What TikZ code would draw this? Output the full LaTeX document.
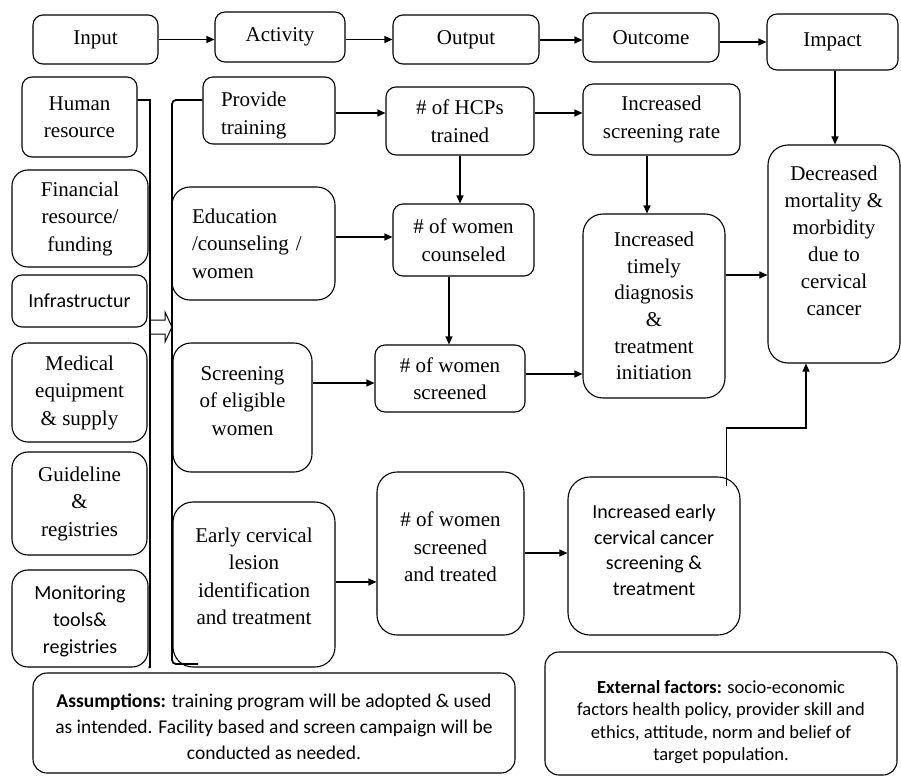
\documentclass[tikz,border=0pt]{standalone}
\usepackage{fontspec}
\setmainfont{Liberation Serif}
\newfontfamily\calfont{Carlito}
\usetikzlibrary{arrows.meta}
\begin{document}
\begin{tikzpicture}[x=1pt,y=-1pt,
  box/.style={draw, line width=1.1pt, rounded corners=10pt, align=center, inner sep=2pt, font=\fontsize{21}{27.5}\selectfont},
  cbox/.style={box, font=\calfont\fontsize{20}{27}\selectfont},
  arr/.style={-{Triangle[length=8pt,width=7pt]}, line width=1.1pt},
  brk/.style={line width=1.8pt}]
\useasboundingbox (0,0) rectangle (901,778);
% top row
\node[box, minimum width=125pt, minimum height=49pt] (input) at (95.5,39.5) {Input};
\node[box, minimum width=130pt, minimum height=50pt] (activity) at (280,37) {Activity};
\node[box, minimum width=146pt, minimum height=49pt] (output) at (466,39.5) {Output};
\node[box, minimum width=136pt, minimum height=49pt] (outcome) at (651,37.5) {Outcome};
\node[box, minimum width=131pt, minimum height=56pt] (impact) at (832.5,42) {Impact};
% inputs
\node[box, minimum width=115pt, minimum height=80pt] (human) at (79.5,117) {Human\\resource};
\node[box, rounded corners=16pt, minimum width=136pt, minimum height=97pt] (financial) at (80,218.5) {Financial\\resource/\\funding};
\node[cbox, minimum width=135pt, minimum height=52pt] (infra) at (79.5,301) {Infrastructur};
\node[box, rounded corners=16pt, minimum width=135pt, minimum height=99pt] (medical) at (79.5,392.5) {Medical\\equipment\\\& supply};
\node[box, rounded corners=16pt, minimum width=135pt, minimum height=103pt] (guideline) at (79.5,503.5) {Guideline\\\&\\registries};
\node[cbox, rounded corners=16pt, minimum width=136pt, minimum height=97pt] (monitoring) at (80,618.5) {\mbox{}\\[-8pt]Monitoring\\tools\&\\registries};
% activities
\node[box, minimum width=132pt, minimum height=67pt, align=left, text width=96pt] (training) at (269,110.5) {\mbox{}\\[-3pt]Provide\\training};
\node[box, rounded corners=18pt, minimum width=163pt, minimum height=113pt, align=left, text width=123pt] (education) at (253.5,243.5) {Education\\/counseling /\\women};
\node[box, rounded corners=18pt, minimum width=139pt, minimum height=129pt] (screening) at (242.5,407.5) {Screening\\of eligible\\women\\[-14.5pt]\mbox{}};
\node[box, rounded corners=20pt, minimum width=162pt, minimum height=165pt] (early) at (254,584.5) {Early cervical\\lesion\\identification\\and treatment\\[-10.5pt]\mbox{}};
% outputs
\node[box, minimum width=148pt, minimum height=68pt] (hcp) at (460,121) {\# of HCPs\\trained};
\node[box, minimum width=141pt, minimum height=72pt] (counseled) at (463.5,240) {\# of women\\counseled};
\node[box, minimum width=150pt, minimum height=67pt] (screened) at (450,378.5) {\# of women\\screened};
\node[box, rounded corners=20pt, minimum width=147pt, minimum height=163pt] (treated) at (450.5,553.5) {\# of women\\screened\\and treated\\[-14.5pt]\mbox{}};
% outcomes
\node[box, minimum width=157pt, minimum height=71pt] (rate) at (661.5,119.5) {Increased\\screening rate};
\node[box, rounded corners=20pt, minimum width=142pt, minimum height=184pt, font=\fontsize{21}{26.6}\selectfont] (timely) at (654,306) {Increased\\timely\\diagnosis\\\&\\treatment\\initiation};
\node[cbox, rounded corners=22pt, minimum width=172pt, minimum height=158pt, font=\calfont\fontsize{20}{25.5}\selectfont] (earlyout) at (654,556) {Increased early\\cervical cancer\\screening \&\\treatment\\[-13.5pt]\mbox{}};
% impact
\node[box, rounded corners=20pt, minimum width=132pt, minimum height=218pt, font=\fontsize{21}{27}\selectfont] (decreased) at (834,254) {Decreased\\mortality \&\\morbidity\\due to\\cervical\\cancer\\\mbox{}};
% bottom
\node[draw, line width=1.1pt, rounded corners=14pt, minimum width=482pt, minimum height=100pt, align=center, font=\calfont\fontsize{19.5}{26}\selectfont] (assump) at (274,723) {\mbox{}\\[-4pt]\textbf{Assumptions:} training program will be adopted \& used\\as intended. Facility based and screen campaign will be\\conducted as needed.};
\node[draw, line width=1.1pt, rounded corners=14pt, minimum width=352pt, minimum height=123pt, align=center, font=\calfont\fontsize{18.5}{22.5}\selectfont] (external) at (721,713.5) {\mbox{}\\[7.5pt]\textbf{External factors:} socio-economic\\factors health policy, provider skill and\\ethics, attitude, norm and belief of\\target population.};
% top arrows
\draw[arr] (input.east) -- (input.east -| activity.west);
\draw[arr] (activity.east |- output.west) -- (output.west);
\draw[arr] (output.east |- 0,40) -- (outcome.west |- 0,40);
\draw[arr] (outcome.east |- 0,42) -- (impact.west |- 0,42);
\draw[arr] (impact.south -| 835,0) -- (decreased.north -| 835,0);
% inner arrows
\draw[arr] (training.east |- 0,113) -- (hcp.west |- 0,113);
\draw[arr] (hcp.east |- 0,113) -- (rate.west |- 0,113);
\draw[arr] (hcp.south -| 460,0) -- (counseled.north -| 460,0);
\draw[arr] (education.east |- 0,237) -- (counseled.west |- 0,237);
\draw[arr] (counseled.south -| 449,0) -- (screened.north -| 449,0);
\draw[arr] (screening.east |- 0,383) -- (screened.west |- 0,383);
\draw[arr] (screened.east |- 0,374) -- (timely.west |- 0,374);
\draw[arr] (rate.south -| 647,0) -- (timely.north -| 647,0);
\draw[arr] (timely.east |- 0,275) -- (decreased.west |- 0,275);
\draw[arr] (early.east |- 0,582) -- (treated.west |- 0,582);
\draw[arr] (treated.east |- 0,553) -- (earlyout.west |- 0,553);
\coordinate (eostart) at ([xshift=-14pt,yshift=-10pt]earlyout.north east);
\coordinate (bend) at (806,428);
\draw[arr] (eostart) |- (bend) -- (decreased.south -| bend);
% brackets
\draw[brk] (human.east |- 0,100) -- (150,100) -- (150,667) -- (monitoring.south east);
\draw[brk, rounded corners=4pt] (training.west |- 0,100) -- (172,100) -- (172,664) -- (198,664);
% hollow block arrow
\draw[line width=1pt] (151,320) -- (165,320) -- (165,312) -- (172,327) -- (165,342) -- (165,334) -- (151,334);
\end{tikzpicture}
\end{document}
